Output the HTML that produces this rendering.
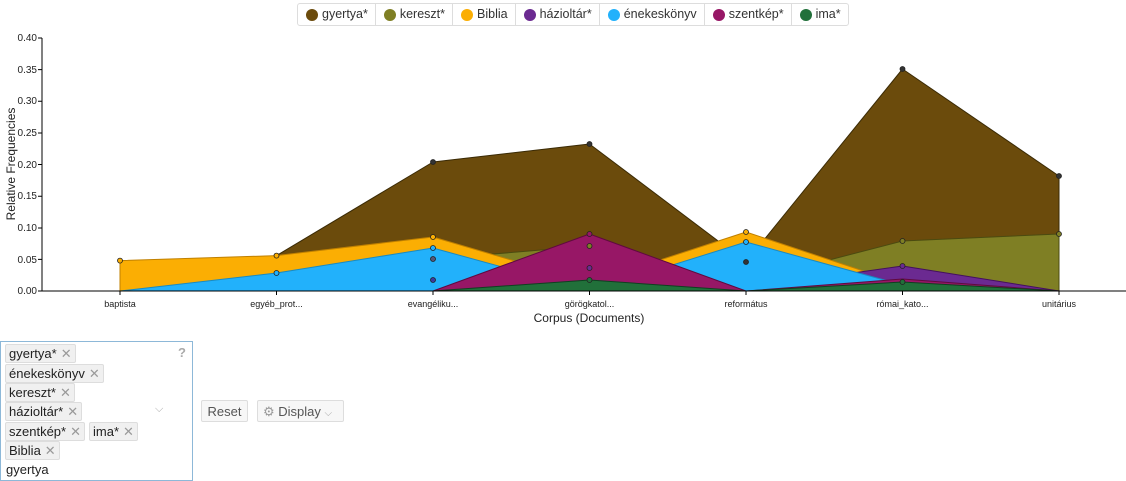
<!DOCTYPE html>
<html><head><meta charset="utf-8"><style>
body{margin:0;width:1126px;height:481px;background:#fff;font-family:"Liberation Sans",sans-serif;position:relative;overflow:hidden}
.leg{position:absolute;left:297px;top:3px;height:21px;border:1px solid #ddd;border-radius:3px;display:flex;font-size:12.5px;color:#333}
.leg div{padding:0 7px 0 8px;border-right:1px solid #ddd;line-height:21px;display:flex;align-items:center}
.leg div:last-child{border-right:none}
.leg i{display:inline-block;width:12px;height:12px;border-radius:50%;margin-right:4px}
.sel{position:absolute;left:0;top:341px;width:193px;height:140px;border:1px solid #8db8d8;box-sizing:border-box;font-size:13px;color:#222}
.tag{position:absolute;background:#f0f0f0;border:1px solid #ddd;border-radius:2px;padding:0 3px;height:17px;line-height:17px}
.tag span{color:#999;margin-left:4px}
.btn{position:absolute;top:400px;height:22px;border:1px solid #ddd;border-radius:2px;background:#f7f7f7;font-size:13px;color:#555;line-height:22px;box-sizing:border-box}
</style></head><body>
<div class="leg">
<div><i style="background:#6b4b0c"></i>gyertya*</div>
<div><i style="background:#7f7f24"></i>kereszt*</div>
<div><i style="background:#fbae03"></i>Biblia</div>
<div><i style="background:#6b2a91"></i>házioltár*</div>
<div><i style="background:#22b1fb"></i>énekeskönyv</div>
<div><i style="background:#971766"></i>szentkép*</div>
<div><i style="background:#21703a"></i>ima*</div>
</div>
<svg width="1126" height="335" style="position:absolute;left:0;top:0" font-family="Liberation Sans" font-size="10">
<g stroke-linejoin="round">
<polygon fill="#6b4b0c" stroke="#3a2a05" points="120,291 120,291 276.5,255.6 433,162 589.5,144 746,262 902.5,69 1059,176 1059,291"/>
<polygon fill="#7f7f24" stroke="#4b4b10" points="120,291 120,291 276.5,291 433,259 589.5,246 746,281.5 902.5,241 1059,234 1059,291"/>
<polygon fill="#fbae03" stroke="#c08000" points="120,291 120,260.6 276.5,255.6 433,237 589.5,283 746,232 902.5,284 1059,291 1059,291"/>
<polygon fill="#6b2a91" stroke="#44105e" points="120,291 120,291 276.5,291 433,280 589.5,268 746,288 902.5,266 1059,291 1059,291"/>
<polygon fill="#22b1fb" stroke="#1a8ac0" points="120,291 120,291 276.5,273 433,248 589.5,291 746,242 902.5,285 1059,291 1059,291"/>
<polygon fill="#971766" stroke="#5f0a3f" points="120,291 120,291 276.5,291 433,291 589.5,234 746,291 902.5,279 1059,291 1059,291"/>
<polygon fill="#21703a" stroke="#0f4020" points="120,291 120,291 276.5,291 433,291 589.5,280 746,291 902.5,282 1059,291 1059,291"/>
</g>
<g fill="#333" stroke="#222" stroke-width="0.8">
<circle cx="433" cy="162" r="2.5"/><circle cx="589.5" cy="144" r="2.5"/><circle cx="902.5" cy="69" r="2.5"/><circle cx="1059" cy="176" r="2.5"/><circle cx="746" cy="262" r="2.5"/>
<circle cx="433" cy="259" r="2.5" fill="#557"/><circle cx="589.5" cy="246" r="2.5" fill="#7f7f24"/><circle cx="902.5" cy="241" r="2.5" fill="#7f7f24"/><circle cx="1059" cy="234" r="2.5" fill="#7f7f24"/>
<circle cx="120" cy="260.6" r="2.5" fill="#fbae03"/><circle cx="276.5" cy="255.6" r="2.5" fill="#fbae03"/><circle cx="433" cy="237" r="2.5" fill="#fbae03"/><circle cx="746" cy="232" r="2.5" fill="#fbae03"/>
<circle cx="433" cy="280" r="2.5" fill="#3a3aa0"/><circle cx="589.5" cy="268" r="2.5" fill="#6b2a91"/><circle cx="902.5" cy="266" r="2.5" fill="#6b2a91"/>
<circle cx="276.5" cy="273" r="2.5" fill="#22b1fb"/><circle cx="433" cy="248" r="2.5" fill="#22b1fb"/><circle cx="746" cy="242" r="2.5" fill="#22b1fb"/>
<circle cx="589.5" cy="234" r="2.5" fill="#971766"/>
<circle cx="589.5" cy="280" r="2.5" fill="#21703a"/><circle cx="902.5" cy="282" r="2.5" fill="#21703a"/>
</g>
<g stroke="#000" fill="none">
<path d="M42,38V291H1126"/>
<path d="M38,38h4M38,69.6h4M38,101.3h4M38,133h4M38,164.5h4M38,196.2h4M38,228h4M38,259.4h4M38,291h4"/>
<path d="M120,291v4M276.5,291v4M433,291v4M589.5,291v4M746,291v4M902.5,291v4M1059,291v4"/>
</g>
<g fill="#222" text-anchor="end">
<text x="37" y="41">0.40</text><text x="37" y="73">0.35</text><text x="37" y="104">0.30</text><text x="37" y="136">0.25</text><text x="37" y="168">0.20</text><text x="37" y="199">0.15</text><text x="37" y="231">0.10</text><text x="37" y="263">0.05</text><text x="37" y="294">0.00</text>
</g>
<g fill="#222" text-anchor="middle" font-size="9">
<text x="120" y="307">baptista</text><text x="276.5" y="307">egyéb_prot...</text><text x="433" y="307">evangéliku...</text><text x="589.5" y="307">görögkatol...</text><text x="746" y="307">református</text><text x="902.5" y="307">római_kato...</text><text x="1059" y="307">unitárius</text>
</g>
<text x="589" y="322" text-anchor="middle" font-size="12" fill="#222">Corpus (Documents)</text>
<text transform="translate(15,164) rotate(-90)" text-anchor="middle" font-size="12" fill="#222">Relative Frequencies</text>
</svg>
<div class="sel">
<div class="tag" style="left:4px;top:2px">gyertya*<span>✕</span></div>
<div class="tag" style="left:4px;top:22px">énekeskönyv<span>✕</span></div>
<div class="tag" style="left:4px;top:41px">kereszt*<span>✕</span></div>
<div class="tag" style="left:4px;top:60px">házioltár*<span>✕</span></div>
<div class="tag" style="left:4px;top:80px">szentkép*<span>✕</span></div>
<div class="tag" style="left:88px;top:80px">ima*<span>✕</span></div>
<div class="tag" style="left:4px;top:99px">Biblia<span>✕</span></div>
<div style="position:absolute;left:5px;top:120px">gyertya</div>
<div style="position:absolute;left:177px;top:3px;color:#aaa;font-weight:bold">?</div>
<div style="position:absolute;left:154px;top:61px;color:#aaa;font-size:11px">⌵</div>
</div>
<div class="btn" style="left:201px;width:47px;text-align:center">Reset</div>
<div class="btn" style="left:257px;width:87px;padding-left:5px"><span style="color:#999">⚙</span> Display <span style="color:#aaa;font-size:10px">⌵</span></div>
</body></html>
